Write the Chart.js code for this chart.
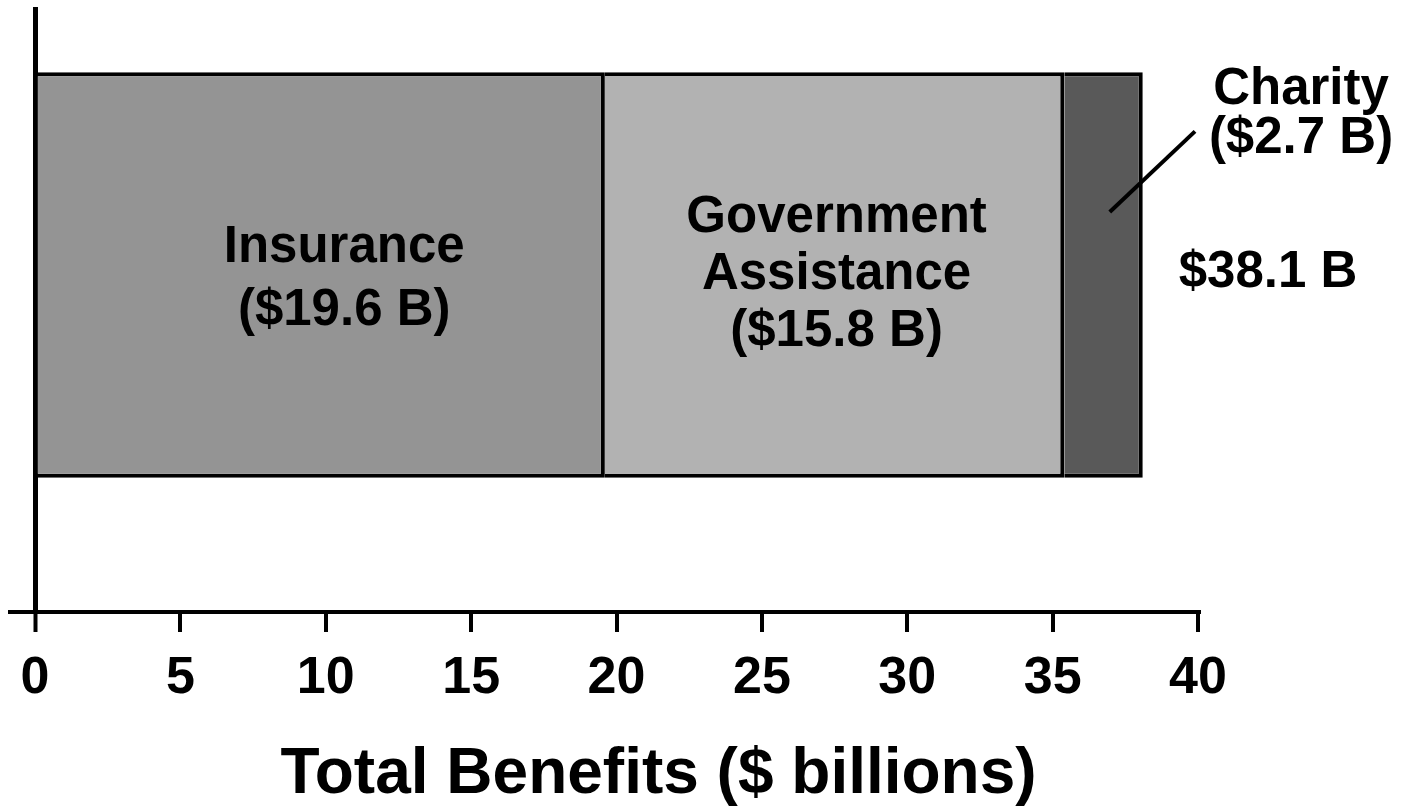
<!DOCTYPE html>
<html>
<head>
<meta charset="utf-8">
<script src="https://cdn.jsdelivr.net/npm/chart.js@4.4.1/dist/chart.umd.min.js"></script>
<style>
html,body{margin:0;padding:0;background:#fff;}
#wrap{width:1402px;height:811px;position:relative;}
canvas{display:block;}
</style>
</head>
<body>
<div id="wrap"><canvas id="c" width="1402" height="811"></canvas></div>
<script>
// ---- data ----
const CATEGORY = 'Total Benefits';
const SERIES_NAMES = ['Insurance', 'Government Assistance', 'Charity'];
const SERIES_LABEL_LINES = [['Insurance'], ['Government', 'Assistance'], ['Charity']];
const SERIES_VALUES = [19.6, 15.8, 2.7];
const X_TICKS = [0, 5, 10, 15, 20, 25, 30, 35, 40];
const AXIS_TITLE = 'Total Benefits ($ billions)';

// ---- style ----
const FONT = '"Liberation Sans", Arial, Helvetica, sans-serif';
const COLORS = ['#949494', '#b2b2b2', '#595959'];
const BAR_ROW = 0.557;

const fmt = v => '$' + v.toFixed(1) + ' B';

const labelPlugin = {
  id: 'segmentLabels',
  afterDraw(chart) {
    const c = chart.ctx;
    const area = chart.chartArea;
    c.save();
    c.fillStyle = '#000';
    c.textAlign = 'center';
    c.textBaseline = 'middle';
    c.font = 'bold 51px ' + FONT;

    const drawBlock = (lines, cx, cy, lh) => {
      const n = lines.length;
      lines.forEach((t, i) => c.fillText(t, cx, cy + (i - (n - 1) / 2) * lh));
    };

    // Insurance
    const e0 = chart.getDatasetMeta(0).data[0];
    drawBlock(SERIES_LABEL_LINES[0].concat(['(' + fmt(SERIES_VALUES[0]) + ')']),
      (e0.x + e0.base) / 2 + 23, e0.y + 4.5, 63);
    // Government
    const e1 = chart.getDatasetMeta(1).data[0];
    drawBlock(SERIES_LABEL_LINES[1].concat(['(' + fmt(SERIES_VALUES[1]) + ')']),
      (e1.x + e1.base) / 2 + 2, e1.y, 57);
    // Charity (outside)
    const e2 = chart.getDatasetMeta(2).data[0];
    const top = e2.y - e2.height / 2;
    drawBlock(SERIES_LABEL_LINES[2].concat(['(' + fmt(SERIES_VALUES[2]) + ')']),
      area.right + 103, top + 42, 49.5);
    // leader line
    c.strokeStyle = '#000';
    c.lineWidth = 4;
    c.beginPath();
    c.moveTo(e2.x - 33, e2.y - 63);
    c.lineTo(area.right - 3, top + 59);
    c.stroke();
    // total
    const total = SERIES_VALUES.reduce((a, b) => a + b, 0);
    c.fillText(fmt(total), area.right + 70, e2.y - 2);

    // axis title
    c.font = 'bold 64px ' + FONT;
    c.fillText(AXIS_TITLE, area.left + 648.5, 775);
    c.restore();
  }
};

new Chart(document.getElementById('c'), {
  type: 'bar',
  data: {
    labels: [CATEGORY],
    datasets: SERIES_NAMES.map((name, i) => ({
      label: name,
      data: [{ x: SERIES_VALUES[i], y: BAR_ROW }],
      backgroundColor: COLORS[i],
      borderColor: '#000',
      borderWidth: 4,
      borderSkipped: 'start',
      barPercentage: 0.67,
      categoryPercentage: 1
    }))
  },
  options: {
    indexAxis: 'y',
    responsive: false,
    animation: false,
    devicePixelRatio: 1,
    layout: { padding: { top: 7, left: 10, right: 204, bottom: 0 } },
    plugins: { legend: { display: false }, tooltip: { enabled: false } },
    scales: {
      x: {
        type: 'linear',
        stacked: true,
        min: -0.86,
        max: 40,
        z: 1,
        afterBuildTicks: s => { s.ticks = X_TICKS.map(v => ({ value: v })); },
        afterFit: s => { s.height = 199; },
        ticks: {
          font: { family: FONT, size: 52, weight: 'bold' },
          color: '#000',
          padding: 15,
          maxRotation: 0,
          autoSkip: false
        },
        grid: {
          display: true,
          drawOnChartArea: true,
          color: c => (c.tick && c.tick.value === 0) ? '#000' : 'rgba(0,0,0,0)',
          lineWidth: c => (c.tick && c.tick.value === 0) ? 5 : 0,
          tickColor: '#000',
          tickWidth: 4,
          tickLength: 20
        },
        border: { display: true, color: '#000', width: 4 }
      },
      y: {
        type: 'linear',
        stacked: true,
        offset: false,
        min: 0,
        max: 1,
        display: false,
        afterBuildTicks: s => { s.ticks = [{ value: 0 }, { value: 1 }]; }
      }
    }
  },
  plugins: [labelPlugin]
});
</script>
</body>
</html>
